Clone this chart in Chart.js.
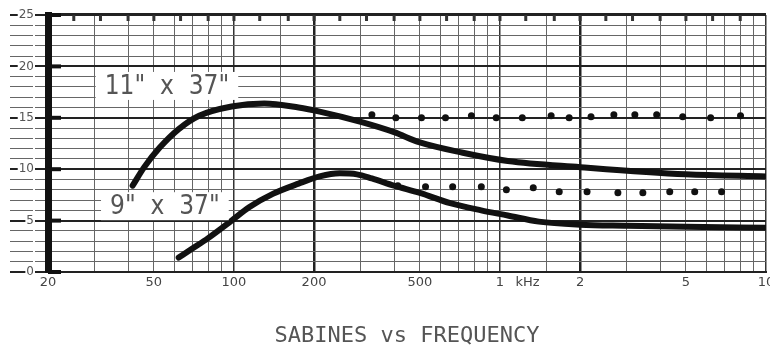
<!DOCTYPE html>
<html>
<head>
<meta charset="utf-8">
<script src="https://cdn.jsdelivr.net/npm/chart.js@4/dist/chart.umd.min.js"></script>
<style>
  html, body { margin: 0; padding: 0; background: #fff; }
</style>
</head>
<body>
<canvas id="sabinesChart" width="770" height="351"></canvas>
<script>
// Curve 11" x 37" (frequency in Hz, sabines)
const freq11 = [41.6, 46, 52.6, 62, 74, 98, 130, 175, 210, 300, 400, 500, 725, 1070, 2000, 5000, 10000];
const sab11 = [8.4, 10.2, 12.1, 13.9, 15.2, 16.1, 16.4, 16.0, 15.6, 14.6, 13.6, 12.6, 11.6, 10.8, 10.2, 9.5, 9.3];

// Curve 9" x 37"
const freq9 = [62, 70, 80, 98, 114, 140, 175, 210, 250, 290, 330, 400, 500, 650, 850, 1070, 1400, 2000, 3000, 5000, 10000];
const sab9 = [1.4, 2.3, 3.3, 5.0, 6.3, 7.6, 8.6, 9.3, 9.6, 9.5, 9.1, 8.4, 7.7, 6.7, 6.0, 5.5, 4.9, 4.6, 4.5, 4.4, 4.3];

// Dotted rows
const dotFreqUpper = [330, 406, 507, 624, 781, 968, 1213, 1557, 1820, 2199, 2680, 3214, 3882, 4864, 6194, 8021];
const dotSabUpper = [15.3, 15.0, 15.0, 15.0, 15.2, 15.0, 15.0, 15.2, 15.0, 15.1, 15.3, 15.3, 15.3, 15.1, 15.0, 15.2];
const dotFreqLower = [413, 525, 664, 851, 1057, 1334, 1670, 2125, 2775, 3444, 4347, 5396, 6808];
const dotSabLower = [8.4, 8.3, 8.3, 8.3, 8.0, 8.2, 7.8, 7.8, 7.7, 7.7, 7.8, 7.8, 7.8];

// Axis grid and labels
const xGridValues = [20, 30, 40, 50, 60, 70, 80, 90, 100, 150, 200, 300, 400, 500, 600, 700, 800, 900,
  1000, 1500, 2000, 3000, 4000, 5000, 6000, 7000, 8000, 9000, 10000];
const xLabelValues = [20, 50, 100, 200, 500, 1000, 1270, 2000, 5000, 10000];
const xLabelTexts = ["20", "50", "100", "200", "500", "1", "kHz", "2", "5", "10"];
const yLabelValues = [0, 5, 10, 15, 20, 25];

// Third-octave marks along the top edge
const topMarkFreqs = [25, 31.5, 40, 50, 63, 80, 100, 125, 160, 200, 250, 315, 400, 500, 630, 800,
  1000, 1250, 1600, 2000, 2500, 3150, 4000, 5000, 6300, 8000];

// Curve labels
const curveLabels = ['11"  x  37"', '9"  x  37"'];
const curveLabelFreqs = [56, 55];
const curveLabelSabs = [18.1, 6.4];

const chartTitle = "SABINES vs FREQUENCY";

function toPoints(xs, ys) {
  return xs.map((x, i) => ({ x: x, y: ys[i] }));
}

// Paper decorations: top edge, edge marks, axis stubs and label boxes
const paperPlugin = {
  id: "paper",
  beforeDatasetsDraw(chart) {
    const ctx = chart.ctx;
    const area = chart.chartArea;
    const xs = chart.scales.x;
    const ys = chart.scales.y;
    ctx.save();
    ctx.strokeStyle = "#222";
    ctx.lineWidth = 2;
    ctx.beginPath();
    ctx.moveTo(area.left, area.top - 1);
    ctx.lineTo(area.right, area.top - 1);
    ctx.stroke();

    ctx.fillStyle = "#333";
    topMarkFreqs.forEach((f) => {
      const px = xs.getPixelForValue(f);
      ctx.fillRect(px - 1.5, area.top, 3, 6);
    });

    ctx.fillStyle = "#111";
    yLabelValues.forEach((v) => {
      const py = ys.getPixelForValue(v);
      ctx.fillRect(area.left, py - 2, 13, 4);
    });
    ctx.restore();
  },
  afterDatasetsDraw(chart) {
    const ctx = chart.ctx;
    const xs = chart.scales.x;
    const ys = chart.scales.y;
    ctx.save();
    ctx.font = '26px "DejaVu Sans Condensed", "Liberation Sans Narrow", "DejaVu Sans", sans-serif';
    ctx.textAlign = "center";
    ctx.textBaseline = "middle";
    curveLabels.forEach((txt, i) => {
      const cx = xs.getPixelForValue(curveLabelFreqs[i]);
      const cy = ys.getPixelForValue(curveLabelSabs[i]);
      const w = ctx.measureText(txt).width + 18;
      ctx.fillStyle = "#fff";
      ctx.fillRect(cx - w / 2, cy - 14, w, 28);
      ctx.fillStyle = "#555";
      ctx.fillText(txt, cx, cy + 1);
    });
    ctx.restore();
  },
};

const ctx = document.getElementById("sabinesChart");

new Chart(ctx, {
  type: "line",
  data: {
    datasets: [
      {
        label: '11" x 37"',
        data: toPoints(freq11, sab11),
        borderColor: "#111",
        borderWidth: 6,
        borderCapStyle: "round",
        cubicInterpolationMode: "monotone",
        pointRadius: 0,
      },
      {
        label: '9" x 37"',
        data: toPoints(freq9, sab9),
        borderColor: "#111",
        borderWidth: 6,
        borderCapStyle: "round",
        cubicInterpolationMode: "monotone",
        pointRadius: 0,
      },
      {
        label: "upper dots",
        data: toPoints(dotFreqUpper, dotSabUpper),
        showLine: false,
        pointRadius: 3.5,
        pointBackgroundColor: "#111",
        pointBorderWidth: 0,
      },
      {
        label: "lower dots",
        data: toPoints(dotFreqLower, dotSabLower),
        showLine: false,
        pointRadius: 3.5,
        pointBackgroundColor: "#111",
        pointBorderWidth: 0,
      },
    ],
  },
  options: {
    responsive: false,
    animation: false,
    devicePixelRatio: 1,
    layout: { padding: { top: 15, right: 2, left: 0, bottom: 0 } },
    plugins: {
      legend: { display: false },
      tooltip: { enabled: false },
      title: {
        display: true,
        text: chartTitle,
        position: "bottom",
        fullSize: false,
        color: "#555",
        font: { family: '"DejaVu Sans Mono", monospace', size: 22, weight: "normal", lineHeight: 1.2 },
        padding: { top: 0, bottom: 2 },
      },
    },
    scales: {
      x: {
        type: "logarithmic",
        min: 20,
        max: 10000,
        afterBuildTicks: (scale) => {
          const vals = xGridValues.concat([1270]).sort((a, b) => a - b);
          scale.ticks = vals.map((v) => ({ value: v }));
        },
        afterFit: (scale) => {
          scale.height = 351 - 272 - 28.4;
          scale.paddingLeft = 0;
          scale.paddingRight = 0;
        },
        ticks: {
          autoSkip: false,
          maxRotation: 0,
          padding: 3,
          color: "#444",
          font: { family: '"DejaVu Sans", sans-serif', size: 13 },
          callback: (value) => {
            const i = xLabelValues.indexOf(value);
            return i >= 0 ? xLabelTexts[i] : "";
          },
        },
        grid: {
          drawTicks: false,
          color: (c) => {
            const v = c.tick ? c.tick.value : 0;
            if (xGridValues.indexOf(v) < 0) return "rgba(0,0,0,0)";
            if (v === 200 || v === 2000) return "#222";
            if (v === 100 || v === 1000 || v === 10000) return "#333";
            return "#666";
          },
          lineWidth: (c) => {
            const v = c.tick ? c.tick.value : 0;
            if (xGridValues.indexOf(v) < 0) return 0;
            if (v === 200 || v === 2000) return 2.5;
            if (v === 100 || v === 1000 || v === 10000) return 1.5;
            return 1;
          },
        },
        border: { display: true, color: "#222", width: 2 },
      },
      y: {
        type: "linear",
        min: 0,
        max: 25,
        afterFit: (scale) => {
          scale.width = 48;
        },
        ticks: {
          stepSize: 1,
          autoSkip: false,
          padding: -24,
          color: "#555",
          font: { family: '"DejaVu Sans", sans-serif', size: 12 },
          showLabelBackdrop: true,
          backdropColor: "#fff",
          backdropPadding: 1,
          callback: (value) => (yLabelValues.indexOf(value) >= 0 ? String(value) : ""),
        },
        grid: {
          drawTicks: true,
          tickLength: 38,
          color: (c) => (c.tick && c.tick.value % 5 === 0 ? "#222" : "#666"),
          lineWidth: (c) => (c.tick && c.tick.value % 5 === 0 ? 2 : 1),
        },
        border: { display: true, color: "#111", width: 7 },
      },
    },
  },
  plugins: [paperPlugin],
});
</script>
</body>
</html>
